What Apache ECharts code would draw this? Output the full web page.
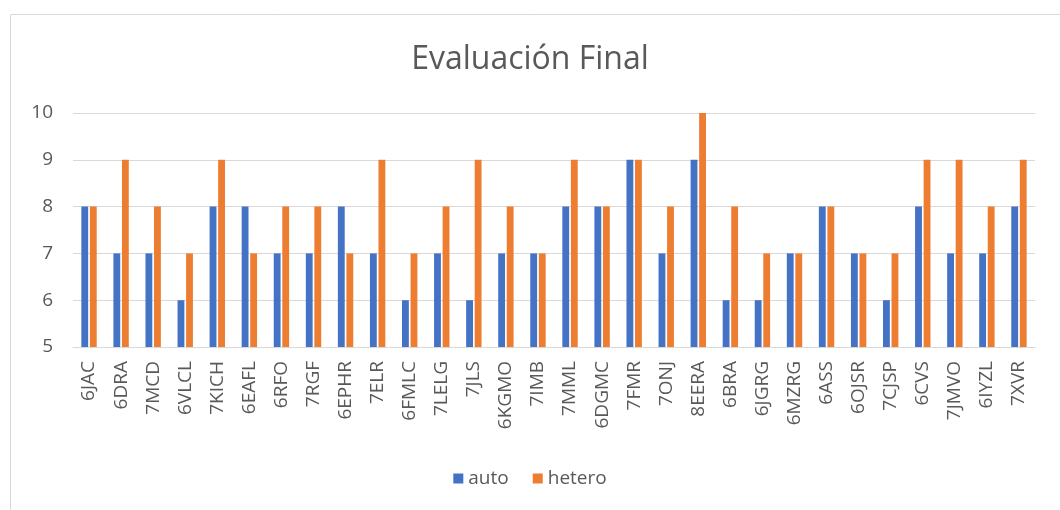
<!DOCTYPE html>
<html>
<head>
<meta charset="utf-8">
<script src="https://cdn.jsdelivr.net/npm/echarts@6/dist/echarts.min.js"></script>
<style>html,body{margin:0;padding:0;background:#fff;}#c{width:1060px;height:510px;}</style>
</head>
<body>
<div id="c"></div>
<script>
const categories = ["6JAC","6DRA","7MCD","6VLCL","7KICH","6EAFL","6RFO","7RGF","6EPHR","7ELR","6FMLC","7LELG","7JLS","6KGMO","7IMB","7MML","6DGMC","7FMR","7ONJ","8EERA","6BRA","6JGRG","6MZRG","6ASS","6OJSR","7CJSP","6CVS","7JMVO","6IYZL","7XVR"];
const autoValues = [8,7,7,6,8,8,7,7,8,7,6,7,6,7,7,8,8,9,7,9,6,6,7,8,7,6,8,7,7,8];
const heteroValues = [8,9,8,7,9,7,8,8,7,9,7,8,9,8,7,9,8,9,8,10,8,7,7,8,7,7,9,9,8,9];
const seriesNames = ["auto","hetero"];
const titleText = "Evaluación Final";

const font = "'Open Sans', 'Noto Sans', sans-serif";
const chart = echarts.init(document.getElementById('c'), null, {renderer:'canvas'});
chart.setOption({
  animation:false,
  backgroundColor:'#fff',
  graphic:[{type:'rect', shape:{x:10.5,y:14.5,width:1100,height:600}, style:{fill:'none', stroke:'#D9D9D9', lineWidth:1}, silent:true, z:-1}],
  title:{text:titleText, left:'center', top:39, textStyle:{fontFamily:font, fontSize:32, fontWeight:'normal', color:'#595959'}},
  legend:{bottom:17, left:'center', itemWidth:10, itemHeight:10, itemGap:24, icon:'rect',
    textStyle:{fontFamily:font, fontSize:19, color:'#595959'}, data:seriesNames},
  grid:{left:73, right:25, top:113, bottom:163, containLabel:false},
  xAxis:{type:'category', data:categories,
    axisLine:{lineStyle:{color:'#D9D9D9', width:1}}, axisTick:{show:false},
    axisLabel:{rotate:90, interval:0, margin:14, fontFamily:font, fontSize:19, color:'#595959'}},
  yAxis:{type:'value', min:5, max:10, interval:1,
    axisLine:{show:false}, axisTick:{show:false},
    splitLine:{lineStyle:{color:'#D9D9D9', width:1}},
    axisLabel:{margin:20, fontFamily:font, fontSize:19, color:'#595959'}},
  series:[
    {name:seriesNames[0], type:'bar', data:autoValues, itemStyle:{color:'#4472C4'}, barGap:'25%', barCategoryGap:'52%'},
    {name:seriesNames[1], type:'bar', data:heteroValues, itemStyle:{color:'#ED7D31'}, barGap:'25%', barCategoryGap:'52%'}
  ]
});
</script>
</body>
</html>
